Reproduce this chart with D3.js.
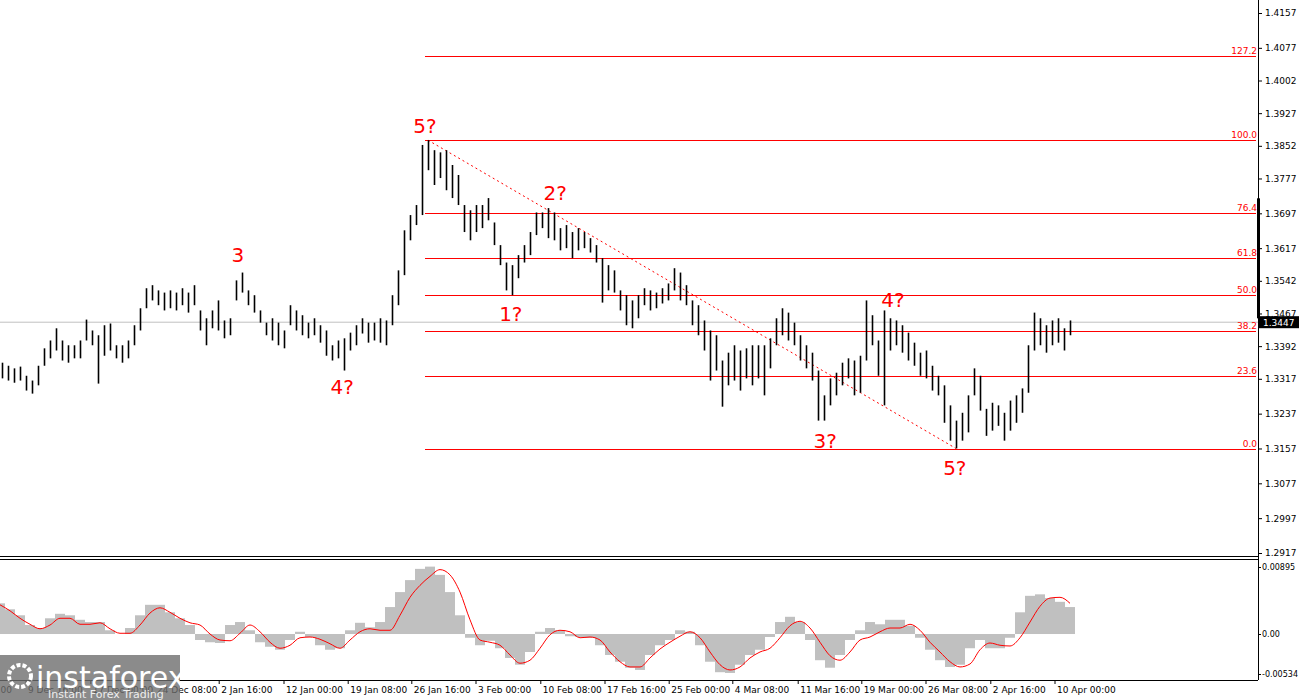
<!DOCTYPE html>
<html><head><meta charset="utf-8">
<script src="https://cdn.jsdelivr.net/npm/d3@7"></script>
<style>
body{margin:0;background:#fff;}
text{font-family:"DejaVu Sans",sans-serif;}
</style></head>
<body><svg id="chart" width="1300" height="700"></svg>
<script>
// 4H bars, every 6px sample: highs and lows
const highs = [1.3354,1.3347,1.3341,1.3345,1.3324,1.3313,1.3347,1.3387,1.3405,1.3433,1.3405,1.3394,1.3394,1.3405,1.3453,1.3428,1.3417,1.3440,1.3444,1.3394,1.3394,1.3405,1.3440,1.3479,1.3525,1.3532,1.3520,1.3515,1.3520,1.3515,1.3525,1.3515,1.3532,1.3474,1.3456,1.3474,1.3497,1.3451,1.3456,1.3543,1.3561,1.3520,1.3509,1.3474,1.3446,1.3456,1.3446,1.3428,1.3486,1.3474,1.3463,1.3446,1.3456,1.3440,1.3428,1.3394,1.3405,1.3410,1.3423,1.3440,1.3456,1.3446,1.3446,1.3456,1.3451,1.3509,1.3566,1.3658,1.3693,1.3716,1.3854,1.3865,1.3842,1.3837,1.3842,1.3808,1.3785,1.3716,1.3704,1.3716,1.3716,1.3732,1.3676,1.3624,1.3584,1.3578,1.3601,1.3624,1.3654,1.3699,1.3699,1.3709,1.3699,1.3663,1.3670,1.3654,1.3663,1.3654,1.3640,1.3624,1.3594,1.3578,1.3566,1.3520,1.3509,1.3497,1.3509,1.3525,1.3520,1.3515,1.3525,1.3536,1.3571,1.3561,1.3532,1.3497,1.3486,1.3451,1.3428,1.3417,1.3359,1.3377,1.3394,1.3382,1.3387,1.3394,1.3394,1.3394,1.3410,1.3456,1.3479,1.3469,1.3446,1.3417,1.3394,1.3377,1.3336,1.3279,1.3318,1.3331,1.3354,1.3364,1.3359,1.3370,1.3497,1.3463,1.3405,1.3474,1.3456,1.3451,1.3440,1.3423,1.3400,1.3377,1.3382,1.3347,1.3324,1.3302,1.3256,1.3221,1.3239,1.3279,1.3341,1.3324,1.3248,1.3262,1.3256,1.3239,1.3267,1.3279,1.3295,1.3394,1.3469,1.3456,1.3440,1.3451,1.3456,1.3433,1.3451];
const lows = [1.3318,1.3313,1.3308,1.3313,1.3290,1.3283,1.3302,1.3347,1.3364,1.3382,1.3359,1.3354,1.3364,1.3364,1.3405,1.3394,1.3306,1.3370,1.3382,1.3364,1.3354,1.3364,1.3394,1.3428,1.3479,1.3497,1.3486,1.3474,1.3479,1.3474,1.3486,1.3469,1.3486,1.3428,1.3394,1.3433,1.3428,1.3410,1.3417,1.3497,1.3515,1.3486,1.3469,1.3446,1.3417,1.3405,1.3394,1.3387,1.3440,1.3428,1.3417,1.3410,1.3417,1.3400,1.3370,1.3359,1.3364,1.3336,1.3382,1.3394,1.3421,1.3400,1.3405,1.3400,1.3394,1.3440,1.3486,1.3555,1.3635,1.3670,1.3693,1.3796,1.3762,1.3778,1.3750,1.3732,1.3716,1.3654,1.3635,1.3654,1.3663,1.3681,1.3624,1.3578,1.3520,1.3509,1.3548,1.3584,1.3601,1.3647,1.3663,1.3640,1.3635,1.3612,1.3617,1.3594,1.3612,1.3617,1.3607,1.3584,1.3492,1.3520,1.3515,1.3474,1.3440,1.3433,1.3456,1.3486,1.3474,1.3479,1.3490,1.3497,1.3520,1.3497,1.3486,1.3440,1.3417,1.3382,1.3313,1.3336,1.3253,1.3302,1.3313,1.3290,1.3318,1.3302,1.3318,1.3279,1.3341,1.3394,1.3417,1.3405,1.3394,1.3359,1.3341,1.3313,1.3221,1.3221,1.3256,1.3279,1.3302,1.3318,1.3279,1.3285,1.3359,1.3394,1.3324,1.3256,1.3382,1.3394,1.3377,1.3359,1.3347,1.3324,1.3318,1.3290,1.3279,1.3216,1.3175,1.3157,1.3175,1.3194,1.3279,1.3244,1.3186,1.3198,1.3209,1.3175,1.3198,1.3216,1.3239,1.3285,1.3382,1.3394,1.3377,1.3394,1.3400,1.3382,1.3417];

// MACD (units of 0.0001), every 10px sample
const macdHist = [41,33,25,12,8,21,27,25,19,16,16,5,0,8,25,39,39,29,21,12,-8,-11,-12,12,16,5,-11,-17,-21,-8,3,-4,-15,-21,-19,5,15,9,16,36,56,72,87,90,79,56,25,-5,-15,-9,-19,-32,-41,-24,3,8,5,-3,-4,-5,-15,-28,-37,-45,-48,-28,-15,-8,5,3,-15,-37,-51,-52,-41,-28,-21,-4,16,23,16,-8,-35,-45,-28,-8,5,16,13,19,19,11,-5,-21,-35,-44,-41,-19,-8,-19,-19,-5,29,51,53,48,43,36];
const macdSignal = [39,31,21,13,7,12,21,21,13,13,15,7,1,1,12,28,35,29,21,15,12,0,-8,-9,1,12,3,-11,-19,-15,-5,-4,-7,-13,-19,-8,3,7,5,5,25,49,65,77,86,79,56,19,-8,-11,-15,-28,-39,-35,-19,-1,5,3,-5,-4,-8,-24,-37,-44,-44,-32,-20,-11,-3,3,-5,-24,-41,-48,-44,-32,-24,-19,-5,11,17,8,-11,-29,-35,-24,-8,-4,3,8,8,13,5,-11,-24,-37,-44,-40,-21,-12,-15,-16,-5,16,37,48,49,41];

const priceTicks = [1.4157,1.4077,1.4002,1.3927,1.3852,1.3777,1.3697,1.3617,1.3542,1.3467,1.3392,1.3317,1.3237,1.3157,1.3077,1.2997,1.2917];
const timeLabels = ["2 Dec 08:00","9 Dec 16:00","17 Dec 00:00","24 Dec 08:00","2 Jan 16:00","12 Jan 00:00","19 Jan 08:00","26 Jan 16:00","3 Feb 00:00","10 Feb 08:00","17 Feb 16:00","25 Feb 00:00","4 Mar 08:00","11 Mar 16:00","19 Mar 00:00","26 Mar 08:00","2 Apr 16:00","10 Apr 00:00"];
const timeLabelIdx = [-7.8,4,14.8,25.5,36.2,47,57.7,68.3,79,89.8,100.5,111.2,121.8,132.7,143.3,154,164.8,175.5];

const fibLevels = [0.0,23.6,38.2,50.0,61.8,76.4,100.0,127.2];
const fibLow = 1.3155, fibHigh = 1.3865, fibStartIdx = 70.5;
const lastPrice = 1.3447;
const dashFrom = {idx:71, price:1.3865}, dashTo = {idx:159, price:1.3157};
const waves = [
  {t:"5?", idx:70.5, price:1.3881},
  {t:"3", idx:39.3, price:1.3586},
  {t:"4?", idx:56.7, price:1.3283},
  {t:"1?", idx:84.8, price:1.3450},
  {t:"2?", idx:92.2, price:1.3727},
  {t:"3?", idx:137.2, price:1.3157},
  {t:"4?", idx:148.5, price:1.3481},
  {t:"5?", idx:158.8, price:1.3097}
];

const svg = d3.select("#chart");
const axisX = 1258;

const x = d3.scaleLinear().domain([0, highs.length - 1]).range([2, 1070]);
const xm = d3.scaleLinear().domain([0, macdHist.length - 1]).range([0, 1070]);
const y = d3.scaleLinear().domain([1.2917, 1.4157]).range([553, 13]);
const ym = d3.scaleLinear().domain([-53.4, 89.5]).range([674, 567]);

// current price line
svg.append("line").attr("x1", 0).attr("x2", axisX).attr("y1", y(lastPrice)).attr("y2", y(lastPrice))
  .attr("stroke", "#c0c0c0");

// fibo lines
fibLevels.forEach(l => {
  const p = fibLow + (fibHigh - fibLow) * l / 100;
  svg.append("line").attr("x1", x(fibStartIdx)).attr("x2", axisX - 2)
    .attr("y1", Math.round(y(p)) + 0.5).attr("y2", Math.round(y(p)) + 0.5)
    .attr("stroke", "#ff0000").attr("stroke-width", 1);
  svg.append("text").attr("x", axisX - 1).attr("y", Math.round(y(p)) - 2)
    .attr("text-anchor", "end").attr("font-size", 9).attr("fill", "#ff0000").text(l.toFixed(1));
});

svg.append("line")
  .attr("x1", x(dashFrom.idx)).attr("y1", y(dashFrom.price))
  .attr("x2", x(dashTo.idx)).attr("y2", y(dashTo.price))
  .attr("stroke", "#ff0000").attr("stroke-dasharray", "2,3");

// price bars
svg.append("g").selectAll("line").data(highs).enter().append("line")
  .attr("x1", (d, i) => Math.round(x(i)) + 0.5).attr("x2", (d, i) => Math.round(x(i)) + 0.5)
  .attr("y1", d => y(d)).attr("y2", (d, i) => y(lows[i]))
  .attr("stroke", "#000").attr("stroke-width", 1.6);

waves.forEach(w => {
  svg.append("text").attr("x", x(w.idx)).attr("y", y(w.price)).attr("text-anchor", "middle")
    .attr("font-family", "Liberation Sans, Arial").attr("font-size", 20).attr("fill", "#ff0000").text(w.t);
});

// right price axis
svg.append("g").attr("transform", `translate(${axisX},0)`)
  .call(d3.axisRight(y).tickValues(priceTicks).tickFormat(d3.format(".4f")).tickSize(4).tickSizeOuter(0))
  .call(g => g.select(".domain").remove())
  .call(g => g.selectAll("text").attr("font-size", 9).attr("fill", "#000"));
svg.append("line").attr("x1", axisX + 0.5).attr("x2", axisX + 0.5).attr("y1", 0).attr("y2", 680).attr("stroke", "#000");
svg.append("rect").attr("x", axisX - 1).attr("y", y(1.3697) - 15).attr("width", 3).attr("height", 120).attr("fill", "#000");

svg.append("rect").attr("x", axisX + 1).attr("y", y(lastPrice) - 6).attr("width", 40).attr("height", 12).attr("fill", "#000");
svg.append("text").attr("x", axisX + 5).attr("y", y(lastPrice) + 4).attr("font-size", 9).attr("fill", "#fff").text(lastPrice.toFixed(4));

// panel separator
svg.append("line").attr("x1", 0).attr("x2", axisX).attr("y1", 556.5).attr("y2", 556.5).attr("stroke", "#000");
svg.append("line").attr("x1", 0).attr("x2", axisX).attr("y1", 559.5).attr("y2", 559.5).attr("stroke", "#000");

// MACD histogram
svg.append("g").selectAll("rect").data(macdHist).enter().append("rect")
  .attr("x", (d, i) => xm(i) - 5).attr("width", 10)
  .attr("y", d => Math.min(ym(d), ym(0))).attr("height", d => Math.abs(ym(d) - ym(0)))
  .attr("fill", "#c0c0c0");
svg.append("path").datum(macdSignal)
  .attr("d", d3.line().x((d, i) => xm(i)).y(d => ym(d)).curve(d3.curveMonotoneX))
  .attr("fill", "none").attr("stroke", "#ff0000").attr("stroke-width", 1);

svg.append("g").attr("transform", `translate(${axisX},0)`)
  .call(d3.axisRight(ym).tickValues([89.5, 0, -53.4]).tickFormat(d => d === 0 ? "0.00" : (d / 10000).toFixed(5)).tickSize(3))
  .call(g => g.select(".domain").remove())
  .call(g => g.selectAll("text").attr("font-size", 8).attr("dx", -2).attr("fill", "#000"));

// bottom time axis
svg.append("line").attr("x1", 0).attr("x2", axisX).attr("y1", 680.5).attr("y2", 680.5).attr("stroke", "#000");
const tg = svg.append("g");
timeLabels.forEach((t, i) => {
  const px = x(timeLabelIdx[i]);
  tg.append("line").attr("x1", px).attr("x2", px).attr("y1", 680).attr("y2", 684).attr("stroke", "#000");
  tg.append("text").attr("x", px + 2).attr("y", 693).attr("font-size", 9).attr("fill", "#000").text(t);
});

// watermark logo
const logo = svg.append("g");
logo.append("rect").attr("x", 0).attr("y", 655).attr("width", 180).attr("height", 45).attr("fill", "rgba(110,110,110,0.8)");
logo.append("circle").attr("cx", 20).attr("cy", 676).attr("r", 11).attr("fill", "none").attr("stroke", "#fff").attr("stroke-width", 4).attr("stroke-dasharray", "4,2");
logo.append("text").attr("x", 36).attr("y", 688).attr("font-size", 30).attr("fill", "#fff").attr("font-family", "Liberation Sans, Arial").text("instaforex");
logo.append("text").attr("x", 48).attr("y", 698).attr("font-size", 11).attr("fill", "#eee").text("Instant Forex Trading");
</script></body></html>
